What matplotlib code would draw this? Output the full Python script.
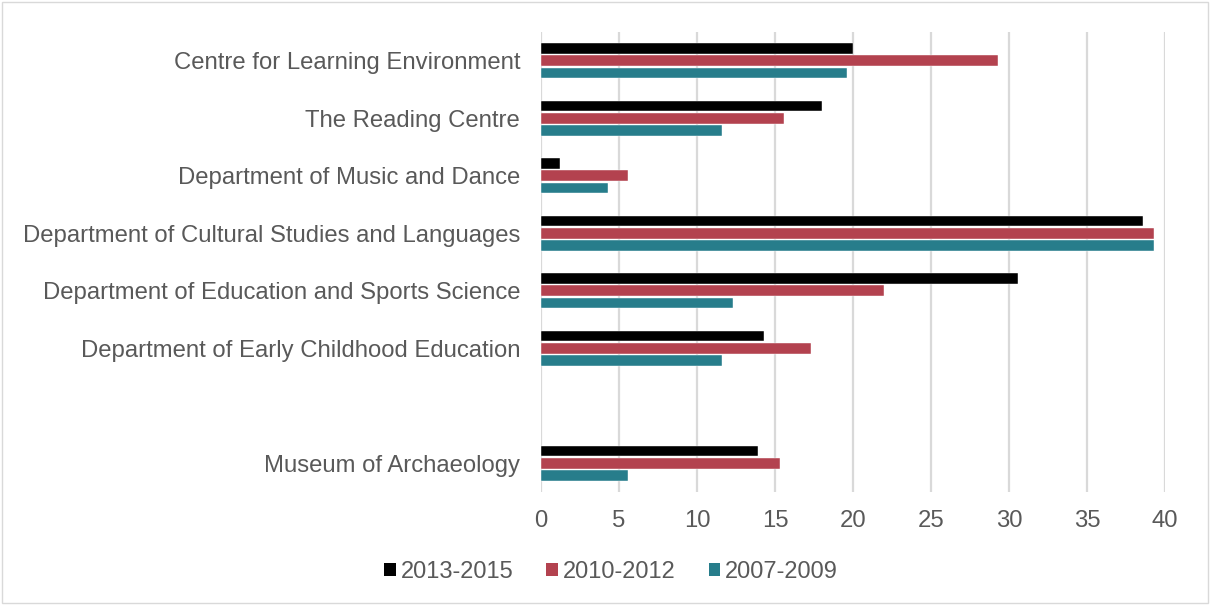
import numpy as np
import matplotlib
matplotlib.use('Agg')
import matplotlib.pyplot as plt
from matplotlib.patches import Patch, Rectangle

plt.rcParams['font.family'] = ['Liberation Sans', 'DejaVu Sans']

# data (top to bottom); '' is the empty slot
categories = ['Centre for Learning Environment', 'The Reading Centre',
              'Department of Music and Dance',
              'Department of Cultural Studies and Languages',
              'Department of Education and Sports Science',
              'Department of Early Childhood Education', '',
              'Museum of Archaeology']
s_2013_2015 = [20.0, 18.0, 1.2, 38.6, 30.6, 14.3, np.nan, 13.9]
s_2010_2012 = [29.3, 15.6, 5.6, 39.3, 22.0, 17.3, np.nan, 15.3]
s_2007_2009 = [19.6, 11.6, 4.3, 39.3, 12.3, 11.6, np.nan, 5.6]
series_names = ['2013-2015', '2010-2012', '2007-2009']
colors = ['#000000', '#B3424F', '#277D8B']

fig = plt.figure(figsize=(12.1, 6.05), dpi=100)
ax = fig.add_axes([541/1210, 1-492/605, (1165-541)/1210, (492-32)/605])

y = np.arange(len(categories))
pitch = 0.21
h = 0.185
for k, vals in enumerate([s_2013_2015, s_2010_2012, s_2007_2009]):
    ax.barh(y + (k-1)*pitch, vals, height=h, color=colors[k],
            edgecolor='white', linewidth=0.3, zorder=3)

ax.set_ylim(len(categories)-0.5, -0.5)
ax.set_xlim(0, 40)
ax.set_xticks(np.arange(0, 41, 5))
ax.set_yticks(y)
ax.set_yticklabels(categories)
ax.tick_params(axis='both', length=0, labelsize=17.2, labelcolor='#595959')
ax.tick_params(axis='y', pad=15)
ax.tick_params(axis='x', pad=13)
ax.grid(axis='x', color='#D9D9D9', linewidth=1.6, zorder=0)
for s in ax.spines.values():
    s.set_visible(False)

handles = [Patch(facecolor=c, edgecolor='none') for c in colors]
fig.legend(handles, series_names, loc='center', bbox_to_anchor=(611/1210, 1-572/605),
           ncol=3, frameon=False, fontsize=17, labelcolor='#595959',
           handlelength=0.5, handleheight=0.5, handletextpad=0.2, columnspacing=1.4)

fig.patches.append(Rectangle((0.002, 0.003), 0.996, 0.994, transform=fig.transFigure,
                             fill=False, edgecolor='#D9D9D9', linewidth=1))

fig.savefig('out.png', dpi=100)
